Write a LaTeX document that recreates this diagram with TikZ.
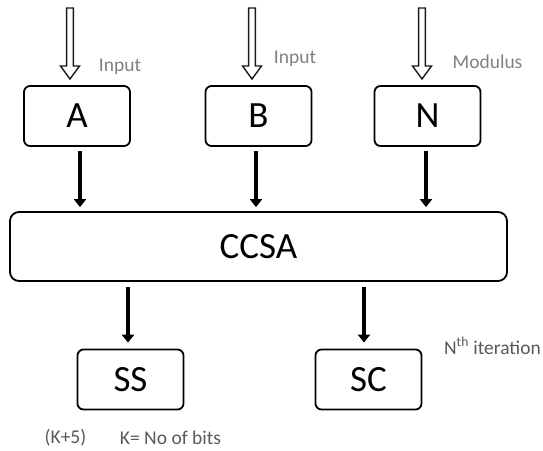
\documentclass[tikz,border=0pt]{standalone}
\usepackage{fontspec}
\setmainfont{Carlito}
\usetikzlibrary{arrows.meta,calc}
\newcommand\hollowarrow[2]{% #1 = top coordinate, #2 = tip coordinate
  \draw[hollow] ($(#1)+(-3.4,0)$) -- ($(#2)+(-3.4,-13)$) -- ($(#2)+(-9.5,-13)$) -- (#2)
    -- ($(#2)+(9.5,-13)$) -- ($(#2)+(3.4,-13)$) -- ($(#1)+(3.4,0)$) -- cycle;}
\begin{document}
\begin{tikzpicture}[x=1pt,y=-1pt,
  blk/.style={draw, line width=1.8pt, rounded corners=6pt, minimum width=106pt,
    minimum height=60pt, inner sep=0pt, font=\fontsize{37}{40}\selectfont},
  flow/.style={line width=3.5pt, -{Triangle[length=8pt,width=12pt]}, black},
  lbl/.style={inner sep=0pt, font=\fontsize{19.5}{22}\selectfont, text=black!50},
  note/.style={inner sep=0pt, font=\fontsize{19.5}{22}\selectfont, text=black!65},
  hollow/.style={draw=black!90, line width=1.4pt, fill=white, line join=miter}
]
\useasboundingbox (0,0) rectangle (543,450);

% boxes
\node[blk] (A) at (77,116) {A};
\node[blk] (B) at (258.5,116) {B};
\node[blk] (N) at (427.5,116) {N};
\node[blk, minimum width=497pt, minimum height=69pt, rounded corners=9pt] (CCSA) at (258.5,246.5) {CCSA};
\node[blk] (SS) at (130.5,379.5) {SS};
\node[blk] (SC) at (368.5,379.5) {SC};

% hollow input arrows
\coordinate (inA) at (70,8);  \coordinate (tipA) at (70,79);
\coordinate (inB) at (252,8); \coordinate (tipB) at (252,79);
\coordinate (inN) at (422,8); \coordinate (tipN) at (422,79);
\hollowarrow{inA}{tipA}
\hollowarrow{inB}{tipB}
\hollowarrow{inN}{tipN}

% labels
\node[lbl] (lA) at (120,67) {Input};
\node[lbl] (lB) at (295,59) {Input};
\node[lbl] (lN) at (487.5,62) {Modulus};
\node[note] (iter) at (492.5,346) {N\textsuperscript{th} iteration};
\node[note] (k5) at (65.5,438) {(K+5)};
\node[note] (kb) at (170.5,438) {K= No of bits};

% solid arrows
\draw[flow, shorten <=4pt, shorten >=4pt] ([xshift=3pt]A.south) -- ([xshift=3pt]A.south |- CCSA.north);
\draw[flow, shorten <=4pt, shorten >=4pt] ([xshift=-2.5pt]B.south) -- ([xshift=-2.5pt]B.south |- CCSA.north);
\draw[flow, shorten <=4pt, shorten >=4pt] ([xshift=-1.5pt]N.south) -- ([xshift=-1.5pt]N.south |- CCSA.north);
\draw[flow, shorten <=5pt, shorten >=6pt] ([xshift=-2.5pt]SS.north |- CCSA.south) -- ([xshift=-2.5pt]SS.north);
\draw[flow, shorten <=5pt, shorten >=6pt] ([xshift=-4.5pt]SC.north |- CCSA.south) -- ([xshift=-4.5pt]SC.north);
\end{tikzpicture}
\end{document}
